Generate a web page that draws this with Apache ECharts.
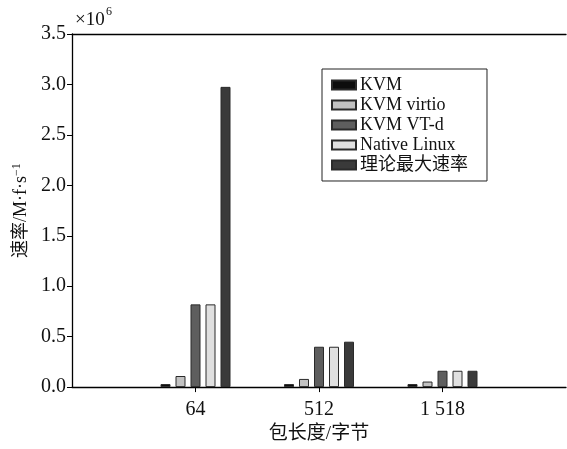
<!DOCTYPE html>
<html>
<head>
<meta charset="utf-8">
<script src="https://cdn.jsdelivr.net/npm/echarts@6/dist/echarts.min.js"></script>
<style>
  html, body { margin: 0; padding: 0; background: #fff; }
  #chart { width: 567px; height: 449px; }
</style>
</head>
<body>
<div id="chart"></div>
<script>
// Packet-rate comparison, values in units of 10^6 frames per second
const categories = ['64', '512', '1 518'];
const seriesNames = ['KVM', 'KVM virtio', 'KVM VT-d', 'Native Linux', '理论最大速率'];
const kvm = [0.03, 0.03, 0.03];
const kvmVirtio = [0.11, 0.081, 0.055];
const kvmVtd = [0.82, 0.40, 0.162];
const nativeLinux = [0.82, 0.40, 0.162];
const theoreticalMax = [2.976, 0.45, 0.162];
const yTicks = { min: 0, max: 3.5, step: 0.5 };

const seriesValues = [kvm, kvmVirtio, kvmVtd, nativeLinux, theoreticalMax];
const fills = ['#0d0d0d', '#c2c2c2', '#5e5e5e', '#e0e0e0', '#3a3a3a'];

const serif = '"Liberation Serif", "Times New Roman", "Noto Sans CJK SC", serif';

// Categories sit at x = 1, 2, 3 on a 0..4 value axis
const catPos = categories.map((_, i) => i + 1);

const chart = echarts.init(document.getElementById('chart'), null, { renderer: 'canvas' });

chart.setOption({
  animation: false,
  backgroundColor: '#fff',
  textStyle: { fontFamily: serif },
  grid: { left: 72, right: 1, top: 34, bottom: 56, containLabel: false },
  legend: {
    orient: 'vertical',
    left: 322,
    top: 69,
    padding: [7, 19, 7, 9],
    borderColor: '#222',
    borderWidth: 1,
    icon: 'rect',
    itemWidth: 24,
    itemHeight: 9,
    itemGap: 2,
    data: seriesNames,
    textStyle: { fontFamily: serif, fontSize: 18, color: '#111', lineHeight: 17, padding: [0, 0, 0, -1] }
  },
  xAxis: [{
    type: 'value',
    min: 0,
    max: 4,
    interval: 1,
    splitLine: { show: false },
    axisLine: { show: true, lineStyle: { color: '#000', width: 1.3 } },
    axisTick: { show: true, length: 5, customValues: catPos, lineStyle: { color: '#000' } },
    axisLabel: {
      customValues: catPos,
      formatter: v => categories[Math.round(v) - 1] || '',
      fontSize: 20,
      color: '#111',
      margin: 13,
      fontFamily: serif
    },
    name: '包长度/字节',
    nameLocation: 'middle',
    nameGap: 36,
    nameTextStyle: { fontSize: 19, color: '#111', fontFamily: serif }
  }, {
    type: 'value',
    position: 'top',
    min: 0,
    max: 4,
    splitLine: { show: false },
    axisLine: { show: true, onZero: false, lineStyle: { color: '#000', width: 1.3 } },
    axisTick: { show: false },
    axisLabel: { show: false }
  }],
  yAxis: {
    type: 'value',
    min: yTicks.min,
    max: yTicks.max,
    interval: yTicks.step,
    splitLine: { show: false },
    axisLine: { show: true, lineStyle: { color: '#000', width: 1.3 } },
    axisTick: { show: true, length: 5, lineStyle: { color: '#000' } },
    axisLabel: {
      formatter: v => v.toFixed(1),
      fontSize: 20,
      color: '#111',
      margin: 6,
      fontFamily: serif
    },
    name: '速率/M·f·s{sup|−1}',
    nameLocation: 'middle',
    nameRotate: 90,
    nameGap: 37,
    nameTextStyle: {
      fontSize: 18,
      color: '#111',
      fontFamily: serif,
      rich: {
        sup: { fontSize: 12, verticalAlign: 'top', fontFamily: serif, color: '#111', padding: [0, 0, 8, 0] }
      }
    }
  },
  graphic: [
    { type: 'text', left: 75, top: 11, style: { text: '×10', font: '19px ' + serif, fill: '#111' } },
    { type: 'text', left: 106, top: 6, style: { text: '6', font: '12px ' + serif, fill: '#111' } }
  ],
  series: seriesNames.map((name, s) => ({
    name,
    type: 'bar',
    xAxisIndex: 0,
    barWidth: 10,
    barGap: '50%',
    itemStyle: { color: fills[s], borderColor: '#2a2a2a', borderWidth: 1 },
    data: seriesValues[s].map((v, i) => [catPos[i], v])
  }))
});
</script>
</body>
</html>
